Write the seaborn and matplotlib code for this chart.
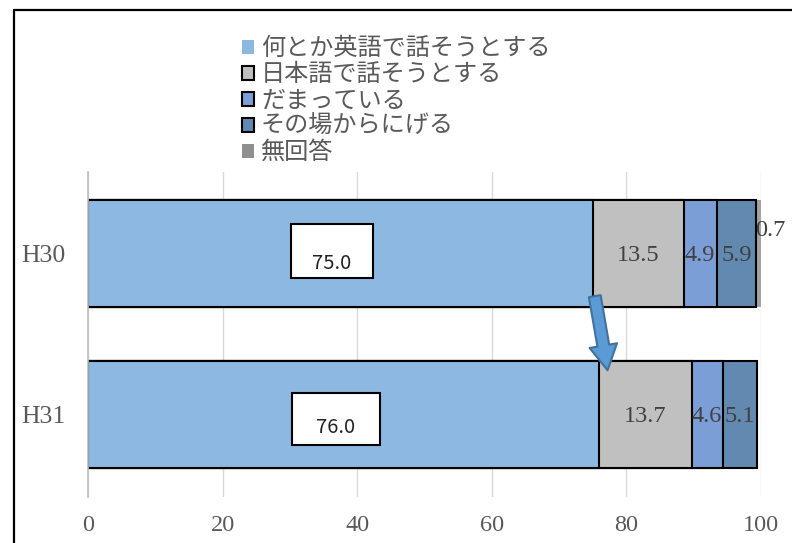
import matplotlib
matplotlib.use("Agg")
import matplotlib.pyplot as plt
import seaborn as sns
import pandas as pd
import numpy as np
from matplotlib.patches import Patch, Rectangle
from matplotlib.lines import Line2D

# survey data (percent)
years = ["H30", "H31"]
responses = ["何とか英語で話そうとする", "日本語で話そうとする", "だまっている",
             "その場からにげる", "無回答"]
eigo = [75.0, 76.0]
nihongo = [13.5, 13.7]
damatte = [4.9, 4.6]
nigeru = [5.9, 5.1]
mukaitou = [0.7, 0.0]
xticks = [0, 20, 40, 60, 80, 100]

colors = ["#8DB8E2", "#C0C0C0", "#7C9ED6", "#628AB0", "#A3A3A3"]
legend_edges = ["none", "black", "black", "black", "none"]
legend_faces = ["#8DB8E2", "#C0C0C0", "#7C9ED6", "#628AB0", "#8F8F8F"]

sns.set_theme(style="white")
plt.rcParams["font.family"] = ["Liberation Serif", "Noto Sans CJK JP", "DejaVu Sans"]

fig = plt.figure(figsize=(7.92, 5.43), dpi=100)
ax = fig.add_axes([88 / 792, 1 - 497 / 543, 673 / 792, 325 / 543])

series = [eigo, nihongo, damatte, nigeru, mukaitou]
cum = np.cumsum(np.array(series), axis=0)
starts = cum - np.array(series)

# stacked bars: draw cumulative totals from longest to shortest
for i in range(len(series) - 1, -1, -1):
    d = pd.DataFrame({"year": years, "value": cum[i]})
    sns.barplot(data=d, x="value", y="year", orient="h", color=colors[i],
                saturation=1, width=0.665,
                edgecolor="black" if i < 4 else "none", linewidth=1.5,
                ax=ax, zorder=2)

ax.set_xlim(0, 100)
ax.set_ylim(1.512, -0.506)
ax.set_xticks(xticks)
ax.set_xticklabels([str(t) for t in xticks])
ax.set_xlabel("")
ax.set_ylabel("")
ax.xaxis.grid(True, color="#D9D9D9", lw=1)
ax.yaxis.grid(False)
ax.set_axisbelow(True)
for s in ["top", "right", "bottom"]:
    ax.spines[s].set_visible(False)
ax.spines["left"].set_color("#BFBFBF")
ax.spines["left"].set_linewidth(1.2)
ax.tick_params(axis="x", length=0, pad=13, labelsize=17.5, labelcolor="#595959")
ax.tick_params(axis="y", length=0, pad=16, labelsize=18.5, labelcolor="#595959")

# boxed labels on the main segment
box_specs = [(30.2, -0.183, 12.1, 0.335, 0.06), (30.3, 0.866, 13.1, 0.323, 1.078)]
for j, (bx, by, bw, bh, ty) in enumerate(box_specs):
    ax.add_patch(Rectangle((bx, by), bw, bh, facecolor="white", edgecolor="black",
                           lw=1.5, zorder=4))
    ax.text(bx + bw / 2, ty, f"{eigo[j]:.1f}", ha="center", va="center",
            fontsize=14.5, color="#222222", family=["Noto Sans CJK JP"], zorder=5)

# labels on the remaining segments
for k in range(1, 4):
    for j in range(len(years)):
        ax.text(starts[k][j] + series[k][j] / 2, j + 0.01, f"{series[k][j]:.1f}",
                ha="center", va="center", fontsize=17.5, color="#404040", zorder=5)
ax.text(101.4, -0.14, f"{mukaitou[0]:.1f}", ha="center", va="center",
        fontsize=17.5, color="#404040", clip_on=False, zorder=5)

# arrow between the two years
ax.annotate("", xy=(77.2, 0.725), xytext=(75.3, 0.265),
            arrowprops=dict(arrowstyle="simple,head_length=0.9,head_width=1.0,tail_width=0.43",
                            mutation_scale=20, fc="#5B9BD5", ec="#41719C", lw=1.5,
                            shrinkA=0, shrinkB=0), zorder=6)

handles = [Patch(facecolor=f, edgecolor=e, linewidth=1.5)
           for f, e in zip(legend_faces, legend_edges)]
fig.legend(handles, responses, loc="upper left", bbox_to_anchor=(0.305, 0.935),
           frameon=False, prop={"family": ["Noto Sans CJK JP"], "size": 17.4},
           labelcolor="#595959", handlelength=0.5, handleheight=0.5,
           handletextpad=0.3, labelspacing=0.0, borderpad=0, borderaxespad=0)

# outer frame
fig.add_artist(Line2D([14 / 792, 1], [1 - 10 / 543] * 2, color="black", lw=1.6,
                      transform=fig.transFigure))
fig.add_artist(Line2D([14 / 792] * 2, [0, 1 - 10 / 543], color="black", lw=1.6,
                      transform=fig.transFigure))

fig.savefig("out.png", dpi=100)
